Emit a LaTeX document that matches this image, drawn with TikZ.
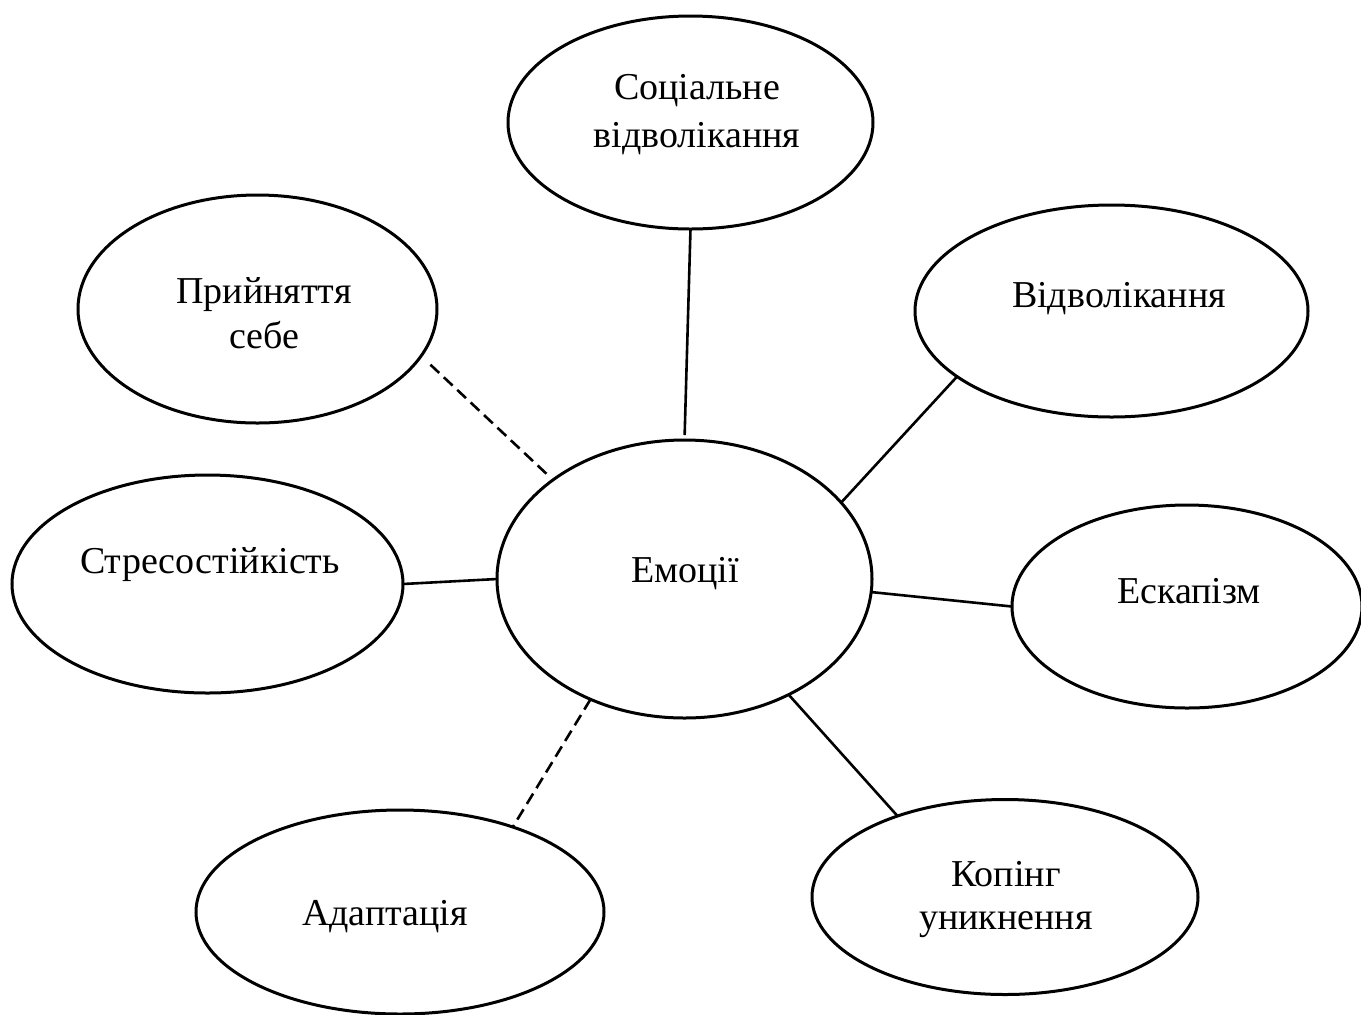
\documentclass[tikz,border=0pt]{standalone}
\usepackage{fontspec}
\setmainfont{Liberation Serif}
\usetikzlibrary{shapes.geometric}
\newcommand{\twolines}[3]{{\fontsize{19}{#3}\selectfont\begin{tabular}[t]{@{}c@{}}#1\\#2\end{tabular}}}
\begin{document}
\begin{tikzpicture}[x=0.5pt,y=-0.5pt,
  bubble/.style={draw, ellipse, line width=1.5pt, inner sep=0pt, outer sep=0pt},
  caption/.style={anchor=base, inner sep=0pt, font=\fontsize{19}{23}\selectfont},
  link/.style={line width=1.3pt},
  weak/.style={line width=1.3pt, dash pattern=on 6pt off 3.2pt}]
  \useasboundingbox (0,0) rectangle (1361,1014);

  % ellipses
  \node[bubble, minimum width=187.5pt, minimum height=139pt]   (emo) at (684.5,579) {};
  \node[bubble, minimum width=182.5pt, minimum height=106.5pt] (soc) at (690.5,122.5) {};
  \node[bubble, minimum width=196.5pt, minimum height=106pt]   (vid) at (1111.5,311) {};
  \node[bubble, minimum width=175pt,   minimum height=101.5pt] (esc) at (1187,606.5) {};
  \node[bubble, minimum width=193pt,   minimum height=97.5pt]  (kop) at (1005,897) {};
  \node[bubble, minimum width=204pt,   minimum height=102pt]   (ada) at (400,912) {};
  \node[bubble, minimum width=195.5pt, minimum height=109pt]   (str) at (207.5,584) {};
  \node[bubble, minimum width=179.5pt, minimum height=114pt]   (pri) at (257.5,309) {};

  % labels
  \node[caption] (emo-t) at (685,582) {Емоції};
  \node[caption] (soc-t) at (697,99) {\twolines{Соціальне}{відволікання}{24}};
  \node[caption] (vid-t) at (1119,307) {Відволікання};
  \node[caption] (esc-t) at (1189,603) {Ескапізм};
  \node[caption] (kop-t) at (1006,886) {\twolines{Копінг}{уникнення}{21.5}};
  \node[caption] (ada-t) at (385,925) {Адаптація};
  \node[caption] (str-t) at (210,573) {Стресостійкість};
  \node[caption] (pri-t) at (264,303) {\twolines{Прийняття}{себе}{22.5}};

  % connectors
  \draw[link, shorten >=2.5pt] (soc.south) -- (emo.north);
  \draw[link] (emo.26.9) -- (vid.203.6);
  \draw[link] (emo.-4.6) -- (esc.west);
  \draw[link] (emo.-48.2) -- (kop.143.2);
  \draw[link] (str.east) -- (emo.west);
  \draw[weak] (emo.232.3) -- (ada.37);
  \draw[weak, shorten <=6.4pt, shorten >=3.4pt] (pri.-16.4) -- (emo.143.4);
\end{tikzpicture}
\end{document}
